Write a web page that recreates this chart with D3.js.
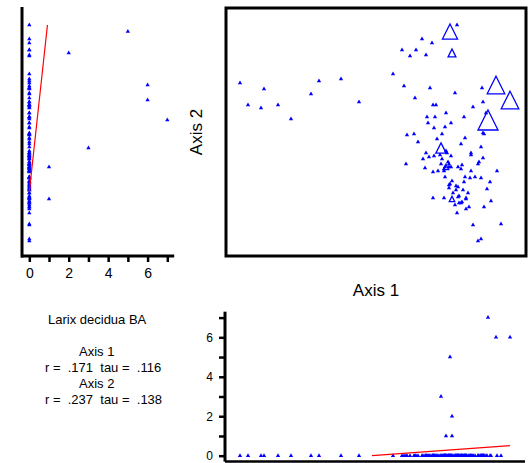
<!DOCTYPE html>
<html><head><meta charset="utf-8">
<script src="https://cdn.jsdelivr.net/npm/d3@7"></script>
<style>html,body{margin:0;padding:0;background:#fff}svg{display:block}text{font-family:"Liberation Sans",Arial,sans-serif}</style>
</head><body><svg id="c" width="529" height="463"></svg>
<script>
// Species scores on ordination axes (arbitrary units) and abundance of Larix decidua BA
const axis1 = [14,38,22,35,52,65,85,93,115,133,167,
231,224,196,206,176,190,184,200,226,178,204,229,256,270,284,189,207,210,247,257,220,260,201,209,238,262,202,225,208,219,181,188,216,257,258,239,211,192,235,255,215,220,221,200,214,225,245,245,203,208,197,216,257,180,222,223,215,253,252,220,219,223,218,225,236,232,235,199,245,207,212,218,271,219,239,244,249,255,226,224,223,238,264,230,232,223,230,237,261,227,242,233,232,207,218,226,240,240,265,236,235,233,229,243,240,258,231,247,275,255,252];
const axis2 = [173,167,151,148,151,137,162,175,177,154,182,
231,224.5,217,213,206,206,200,201,203,170,168,163,168,171,156,158,151,151,149,154,143,143,139,139,139,136,133,133,128,129,121,122,122,123,122,118,117,114,112,109,108,105,103,103,101,100,103,101,99,100,97,97,98,92,94,92,92,94,92,89,89,89,87,89,91,89,87,88,85,84,85,85,85,79,79,78,79,78,75,72,71,74,74,70,69,68,66,66,67,63,63,60,59,58,58,57,58,57,55,54,53,53,51,49,47,49,43,31,32,17,15];
const abundance = [0,0,0,0,0,0,0,0,0,0,0,
0,5,0,0,0,0,0,0,2,0,0,0,0,6,6,0,0,0,0,0,0,0,0,0,0,7,0,0,0,0,0,0,0,0,0,0,0,0,0,0,3,0,0,0,0,0,0,0,0,0,0,0,0,0,0,0,0,0,0,1,0,0,0,0,0,0,0,0,0,0,0,0,0,0,0,0,0,0,0,0,0,0,0,0,0,0,0,0,0,0,0,0,0,0,0,1,0,0,0,0,0,0,0,0,0,0,0,0,0,0,0];
const abundanceTicks = [0,1,2,3,4,5,6,7];
const abundanceLabels = [0,2,4,6];
// fitted lines (endpoints)
const fitLeftAxis2 = [64,231], fitLeftAbund = [0,0.92];
const fitBottomAxis1 = [146,284], fitBottomAbund = [0,0.51];
const title = "Larix decidua BA";
const statLines = ["Axis 1","r =  .171  tau =  .116","Axis 2","r =  .237  tau =  .138"];

const data = axis1.map((a,i)=>({a1:a,a2:axis2[i],ab:abundance[i]}));
const svg = d3.select("#c");
const blue = "#0000ff";

const x1 = d3.scaleLinear().domain([0,300]).range([226,526]);
const y2 = d3.scaleLinear().domain([0,248]).range([256,8]);
const abX = d3.scaleLinear().domain([0,7]).range([29.3,167.3]);
const abY = d3.scaleLinear().domain([0,7]).range([455.7,317.6]);
const triSize = d3.scaleLinear().domain([0,7]).range([3,20]);
const dot = d3.symbol().type(d3.symbolTriangle).size(8);

// ---- main ordination panel
svg.append("rect").attr("x",x1(0)).attr("y",y2(248)).attr("width",x1(300)-x1(0)).attr("height",y2(0)-y2(248))
  .attr("fill","none").attr("stroke","#000").attr("stroke-width",3);
svg.append("g").selectAll("path").data(data.filter(d=>d.ab===0)).join("path")
  .attr("d",dot).attr("transform",d=>`translate(${x1(d.a1)},${y2(d.a2)})`).attr("fill",blue);
svg.append("g").selectAll("path").data(data.filter(d=>d.ab>0)).join("path")
  .attr("d",d=>{const s=triSize(d.ab)/2;return `M0,${-s}L${s},${s}L${-s},${s}Z`;})
  .attr("transform",d=>`translate(${x1(d.a1)},${y2(d.a2)})`)
  .attr("fill","none").attr("stroke",blue).attr("stroke-width",1.3);
svg.append("text").attr("x",376).attr("y",296).attr("text-anchor","middle").attr("font-size",17).text("Axis 1");
svg.append("text").attr("transform","translate(202,132) rotate(-90)").attr("text-anchor","middle").attr("font-size",17).text("Axis 2");

// ---- left panel: abundance vs axis 2
const gl = svg.append("g");
gl.append("line").attr("x1",abX(-0.37)).attr("x2",abX(-0.37)).attr("y1",y2(249)).attr("y2",y2(0)+1.5).attr("stroke","#000").attr("stroke-width",3);
gl.append("line").attr("x1",abX(-0.42)).attr("x2",abX(7.35)).attr("y1",y2(0)).attr("y2",y2(0)).attr("stroke","#000").attr("stroke-width",3);
const axL = gl.append("g").attr("transform",`translate(0,${y2(0)})`)
  .call(d3.axisBottom(abX).tickValues(abundanceTicks).tickSize(6).tickPadding(6)
    .tickFormat(d=>abundanceLabels.includes(d)?d:""));
axL.select(".domain").remove();
axL.selectAll("line").attr("stroke-width",2.5);
axL.selectAll("text").attr("font-size",14).attr("font-family","Liberation Sans, Arial, sans-serif");
gl.append("g").selectAll("path").data(data).join("path")
  .attr("d",dot).attr("transform",d=>`translate(${abX(d.ab)},${y2(d.a2)})`).attr("fill",blue);
gl.append("line").attr("x1",abX(fitLeftAbund[0])).attr("y1",y2(fitLeftAxis2[0]))
  .attr("x2",abX(fitLeftAbund[1])).attr("y2",y2(fitLeftAxis2[1])).attr("stroke","#ff0000").attr("stroke-width",1.2);

// ---- bottom panel: axis 1 vs abundance
const gb = svg.append("g");
gb.append("line").attr("x1",x1(-1)).attr("x2",x1(-1)).attr("y1",abY(7.3)).attr("y2",abY(-0.3)).attr("stroke","#000").attr("stroke-width",3);
gb.append("line").attr("x1",x1(-1)).attr("x2",x1(299)).attr("y1",abY(-0.3)).attr("y2",abY(-0.3)).attr("stroke","#000").attr("stroke-width",2.5);
const axB = gb.append("g").attr("transform",`translate(${x1(-1)},0)`)
  .call(d3.axisLeft(abY).tickValues(abundanceTicks).tickSize(6).tickPadding(6)
    .tickFormat(d=>abundanceLabels.includes(d)?d:""));
axB.select(".domain").remove();
axB.selectAll("line").attr("stroke-width",2.5);
axB.selectAll("text").attr("font-size",12).attr("font-family","Liberation Sans, Arial, sans-serif");
gb.append("g").selectAll("path").data(data).join("path")
  .attr("d",dot).attr("transform",d=>`translate(${x1(d.a1)},${abY(d.ab)})`).attr("fill",blue);
gb.append("line").attr("x1",x1(fitBottomAxis1[0])).attr("y1",abY(fitBottomAbund[0]))
  .attr("x2",x1(fitBottomAxis1[1])).attr("y2",abY(fitBottomAbund[1])).attr("stroke","#ff0000").attr("stroke-width",1.2);

// ---- text block
svg.append("text").attr("x",48).attr("y",324).attr("font-size",13).text(title);
const sx=[79,45,79,45], sy=[356,372,388,404];
statLines.forEach((t,i)=>svg.append("text").attr("x",sx[i]).attr("y",sy[i]).attr("font-size",13)
  .style("white-space","pre").text(t));
</script></body></html>
